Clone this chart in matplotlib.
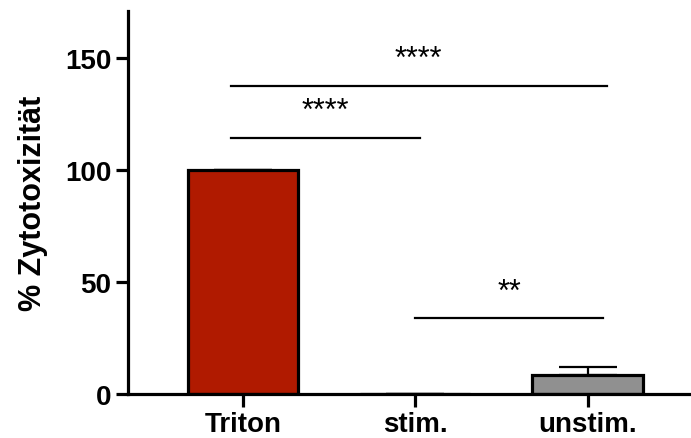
import matplotlib
matplotlib.use('Agg')
import matplotlib.pyplot as plt

plt.rcParams['font.family'] = ['Liberation Sans', 'DejaVu Sans']
plt.rcParams['font.weight'] = 'bold'

groups = ['Triton', 'stim.', 'unstim.']
values = [100, 0, 8.6]
errors = [0, 0, 3.6]
colors = ['#b01a00', '#ffffff', '#909090']

# significance lines: (line start, line end, height, label), x in category units
comparisons = [(-0.07, 2.11, 137.5, '****'), (-0.07, 1.03, 114.3, '****'),
               (1.0, 2.09, 33.8, '**')]

figure = plt.figure(figsize=(6.91, 4.39), dpi=100)
axes = figure.add_axes([0.185, 0.1, 0.815, 0.873])

x = range(len(groups))
axes.bar(x, values, width=0.64, color=colors, edgecolor='black', linewidth=2.3, zorder=2)
axes.errorbar(x, values, yerr=[[0] * len(errors), errors], fmt='none', ecolor='black',
              elinewidth=1.6, capsize=21, capthick=1.6, zorder=1)

for start, end, height, label in comparisons:
    axes.plot([start, end], [height, height], color='black', linewidth=1.6)
    axes.text((start + end) / 2, height + 8.3, label, ha='center', va='baseline',
              fontsize=22, fontweight='normal')

axes.set_xlim(-0.667, 2.6)
axes.set_ylim(0, 171)
axes.set_yticks([0, 50, 100, 150])
axes.set_xticks(list(x))
axes.set_xticklabels(groups)
axes.set_ylabel('% Zytotoxizität', fontsize=22, fontweight='bold', labelpad=12)

for side in ['top', 'right']:
    axes.spines[side].set_visible(False)
for side in ['left', 'bottom']:
    axes.spines[side].set_linewidth(2.3)
axes.tick_params(axis='both', width=2.3, length=9, labelsize=20, pad=3)

figure.savefig('out.png', dpi=100)
